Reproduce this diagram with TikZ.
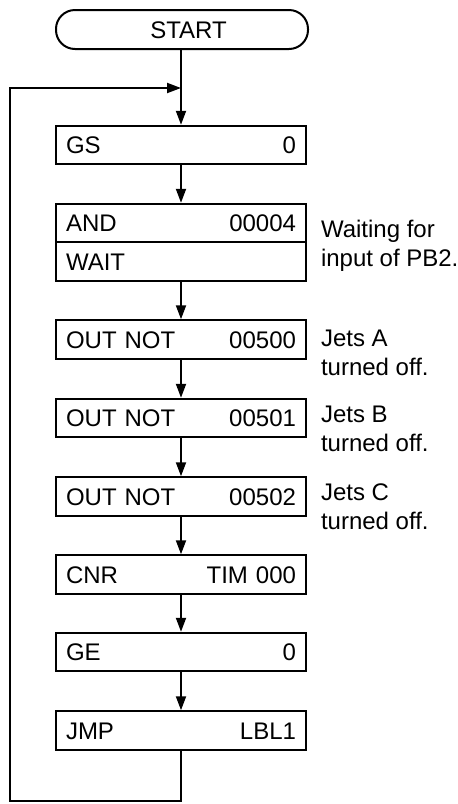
\documentclass[tikz,border=0pt]{standalone}
\usepackage{fontspec}
\setmainfont{Liberation Sans}
\usetikzlibrary{arrows.meta}
\begin{document}
\begin{tikzpicture}[x=1pt,y=-1pt, line width=2pt,
  txt/.style={font=\fontsize{24}{29}\selectfont},
  box/.style={draw, txt, minimum width=250pt, minimum height=38.5pt, text width=230pt,
    inner xsep=10pt, inner ysep=0pt, text height=17pt, text depth=0pt},
  arr/.style={-{Triangle[length=14pt,width=10pt]}},
  note/.style={txt, anchor=west, align=left, inner sep=0pt}]
\useasboundingbox (0,0) rectangle (458,804);
\node[draw, txt, rounded corners=19pt, minimum width=252pt, minimum height=39pt,
  inner sep=0pt, text height=17pt, text depth=0pt] (start) at (182,29.5) {\hspace*{13pt}START};
\node[box] (gs)   at (181,145)   {GS\hfill 0};
\node[box] (and)  at (181,223)   {AND\hfill 00004};
\node[box] (wait) at (181,261.5) {WAIT};
\node[box] (out1) at (181,339.5) {OUT NOT\hfill 00500};
\node[box] (out2) at (181,418)   {OUT NOT\hfill 00501};
\node[box] (out3) at (181,496.5) {OUT NOT\hfill 00502};
\node[box] (cnr)  at (181,574.5) {CNR\hfill TIM 000};
\node[box] (ge)   at (181,652)   {GE\hfill 0};
\node[box] (jmp)  at (181,730.5) {JMP\hfill LBL1};
\node[note] (n1) at (320,246)   {Waiting for\\input of PB2.};
\node[note] (n2) at (320,352.5) {Jets A\\turned off.};
\node[note] (n3) at (320,429)   {Jets B\\turned off.};
\node[note] (n4) at (320,507)   {Jets C\\turned off.};
\coordinate (bottom) at (10,801);
\coordinate (top) at (10,88);
\coordinate (join) at (181,88);
\draw[arr] (gs.north |- start.south) -- (gs.north);
\draw[arr] (gs.south) -- (and.north);
\draw[arr] (wait.south) -- (out1.north);
\draw[arr] (out1.south) -- (out2.north);
\draw[arr] (out2.south) -- (out3.north);
\draw[arr] (out3.south) -- (cnr.north);
\draw[arr] (cnr.south) -- (ge.north);
\draw[arr] (ge.south) -- (jmp.north);
\draw[arr] (jmp.south) |- (bottom) -- (top) -- (join);
\end{tikzpicture}
\end{document}
